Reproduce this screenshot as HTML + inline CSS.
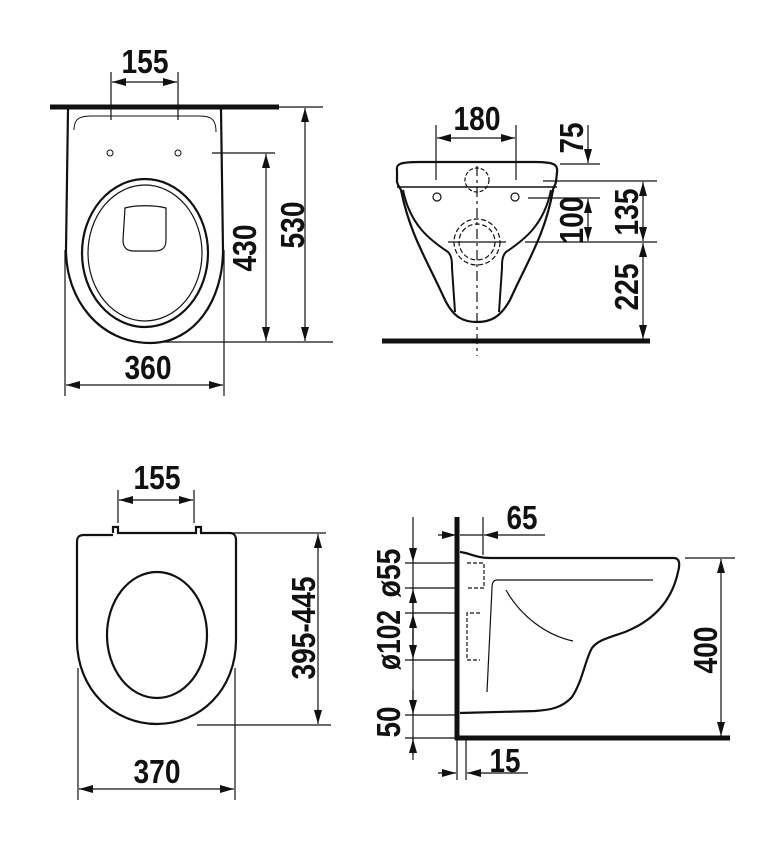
<!DOCTYPE html>
<html><head><meta charset="utf-8"><style>
html,body{margin:0;padding:0;background:#fff;}
svg{display:block;}
text{font-family:"Liberation Sans",sans-serif;font-weight:bold;font-size:33px;fill:#111;text-anchor:middle;}
</style></head><body>
<svg width="784" height="848" viewBox="0 0 784 848" xmlns="http://www.w3.org/2000/svg">
<defs>
<marker id="a" viewBox="0 0 14 8" refX="14" refY="4" markerWidth="14" markerHeight="8" markerUnits="userSpaceOnUse" orient="auto-start-reverse"><path d="M0,0 L14,4 L0,8 Z" fill="#111"/></marker>
</defs>
<g fill="none" stroke="#111" stroke-width="1.2">
<line x1="50" y1="107" x2="279" y2="107" stroke-width="5"/>
<path d="M68,109 L66,250 C66,300 100,343 150,343 C195,343 223,300 223,250 L221,109" stroke-width="2.2"/>
<path d="M74,130 C74,118 80,116 92,116 L200,116 C212,116 216,120 216,132" stroke-width="1"/>
<circle cx="110" cy="153" r="3" stroke-width="1"/><circle cx="178" cy="153" r="3" stroke-width="1"/>
<ellipse cx="145" cy="253" rx="63" ry="74" stroke-width="2.2"/>
<ellipse cx="145" cy="253" rx="57" ry="68" stroke-width="1.2"/>
<path d="M125,208 C135,205 155,205 166,208 L166,240 C166,248 162,251 155,251 L134,251 C127,251 123,248 123,240 Z" stroke-width="1.2"/>
<line x1="111" y1="72" x2="111" y2="120"/><line x1="178" y1="72" x2="178" y2="120"/>
<line x1="112" y1="82" x2="177" y2="82" marker-start="url(#a)" marker-end="url(#a)"/>
<line x1="278" y1="107" x2="323" y2="107"/>
<line x1="305" y1="108" x2="305" y2="341" marker-start="url(#a)" marker-end="url(#a)"/>
<line x1="212" y1="153" x2="275" y2="153"/>
<line x1="266" y1="154" x2="266" y2="341" marker-start="url(#a)" marker-end="url(#a)"/>
<line x1="160" y1="342" x2="333" y2="342"/>
<line x1="65" y1="250" x2="65" y2="396"/><line x1="224" y1="250" x2="224" y2="396"/>
<line x1="66" y1="385" x2="223" y2="385" marker-start="url(#a)" marker-end="url(#a)"/>
<line x1="382" y1="341" x2="650" y2="341" stroke-width="5"/>
<path d="M397,170 C396,164 400,162 420,162 L535,162 C555,162 558,165 557,172 L556,182 C555,186 553,188 553,190 C545,235 528,260 510,300 C500,318 490,322 477,322 C464,322 454,318 445,300 C427,260 410,235 401,190 C400,188 398,186 397,182 Z" stroke-width="2.2"/>
<line x1="397" y1="187" x2="557" y2="187" stroke-width="1.4"/>
<path d="M403,190 C410,225 430,240 448,252 C452,256 452,262 452,268 L455,312" stroke-width="2"/>
<path d="M551,190 C544,225 524,240 506,252 C502,256 502,262 502,268 L499,312" stroke-width="2"/>
<line x1="477" y1="166" x2="477" y2="356" stroke-dasharray="10,4,3,4"/>
<circle cx="477" cy="180" r="12" stroke-dasharray="4,2"/>
<circle cx="477" cy="242" r="23" stroke-dasharray="5,2.5"/>
<circle cx="477" cy="242" r="18" stroke-dasharray="5,2.5"/>
<line x1="448" y1="242" x2="506" y2="242"/>
<circle cx="437" cy="197" r="4"/><circle cx="515" cy="197" r="4"/>
<line x1="436" y1="125" x2="436" y2="180"/><line x1="516" y1="125" x2="516" y2="180"/>
<line x1="437" y1="138" x2="515" y2="138" marker-start="url(#a)" marker-end="url(#a)"/>
<line x1="560" y1="164" x2="600" y2="164"/>
<line x1="588" y1="125" x2="588" y2="163" marker-end="url(#a)"/>
<line x1="543" y1="181" x2="657" y2="181"/>
<line x1="528" y1="198" x2="600" y2="198"/>
<line x1="588" y1="199" x2="588" y2="241" marker-start="url(#a)" marker-end="url(#a)"/>
<line x1="525" y1="242" x2="657" y2="242"/>
<line x1="643" y1="182" x2="643" y2="241" marker-start="url(#a)" marker-end="url(#a)"/>
<line x1="643" y1="243" x2="643" y2="339" marker-start="url(#a)" marker-end="url(#a)"/>
<path d="M113,533 L113,527 L118,527 L118,533 L196,533 L196,527 L201,527 L201,533 L230,533 C234,533 236,536 236,540 L236,640 C236,690 200,724 157,724 C114,724 77,690 77,640 L77,542 C77,537 79,535 84,535 L113,535" stroke-width="2.2"/>
<ellipse cx="157" cy="635" rx="50" ry="63" stroke-width="2.2"/>
<line x1="118" y1="490" x2="118" y2="523"/><line x1="194" y1="490" x2="194" y2="523"/>
<line x1="119" y1="500" x2="193" y2="500" marker-start="url(#a)" marker-end="url(#a)"/>
<line x1="208" y1="533" x2="326" y2="533"/>
<line x1="318" y1="534" x2="318" y2="724" marker-start="url(#a)" marker-end="url(#a)"/>
<line x1="197" y1="725" x2="331" y2="725"/>
<line x1="78" y1="668" x2="78" y2="800"/><line x1="235" y1="668" x2="235" y2="800"/>
<line x1="79" y1="789" x2="234" y2="789" marker-start="url(#a)" marker-end="url(#a)"/>
<line x1="457" y1="517" x2="457" y2="740" stroke-width="5"/>
<line x1="455" y1="738" x2="730" y2="738" stroke-width="5"/>
<path d="M460,552 C470,553 476,558 490,558 L674,558 C680,558 680,565 678,572 C672,600 655,620 625,632 C608,638 598,640 592,648 C585,660 583,680 572,697 C562,708 550,710 535,711 L460,713" stroke-width="2.2"/>
<path d="M653,580 L497,580 C493,580 492,584 492,588 L487,692" stroke-width="1.2"/>
<path d="M506,590 C520,615 545,635 573,641" stroke-width="1.2"/>
<path d="M467,563 L484,563 L484,588 L467,588" stroke-dasharray="4,2"/>
<path d="M480,613 L467,613 L467,660 L480,660" stroke-dasharray="4,2"/>
<line x1="483" y1="517" x2="483" y2="555"/>
<line x1="438" y1="535" x2="456" y2="535" marker-end="url(#a)"/>
<line x1="460" y1="535" x2="483" y2="535"/>
<line x1="545" y1="535" x2="484" y2="535" marker-end="url(#a)"/>
<line x1="413" y1="517" x2="413" y2="562" marker-end="url(#a)"/>
<line x1="413" y1="562" x2="413" y2="755"/>
<line x1="413" y1="615" x2="413" y2="589" marker-end="url(#a)"/>
<line x1="413" y1="640" x2="413" y2="614" marker-end="url(#a)"/>
<line x1="413" y1="630" x2="413" y2="659" marker-end="url(#a)"/>
<line x1="413" y1="690" x2="413" y2="714" marker-end="url(#a)"/>
<line x1="413" y1="760" x2="413" y2="739" marker-end="url(#a)"/>
<line x1="405" y1="563" x2="457" y2="563"/>
<line x1="405" y1="588" x2="457" y2="588"/>
<line x1="405" y1="613" x2="457" y2="613"/>
<line x1="405" y1="660" x2="457" y2="660"/>
<line x1="405" y1="715" x2="457" y2="715"/>
<line x1="405" y1="738" x2="457" y2="738"/>
<line x1="457" y1="740" x2="457" y2="780"/><line x1="466" y1="740" x2="466" y2="780"/>
<line x1="438" y1="773" x2="456" y2="773" marker-end="url(#a)"/>
<line x1="528" y1="773" x2="467" y2="773" marker-end="url(#a)"/>
<line x1="685" y1="558" x2="735" y2="558"/>
<line x1="721" y1="559" x2="721" y2="736" marker-start="url(#a)" marker-end="url(#a)"/>
</g>
<text x="145" y="73" textLength="47" lengthAdjust="spacingAndGlyphs">155</text>
<text x="148" y="379" textLength="47" lengthAdjust="spacingAndGlyphs">360</text>
<text transform="translate(292,225) rotate(-90)" y="12" textLength="47" lengthAdjust="spacingAndGlyphs">530</text>
<text transform="translate(244,248) rotate(-90)" y="12" textLength="47" lengthAdjust="spacingAndGlyphs">430</text>
<text x="477" y="130" textLength="47" lengthAdjust="spacingAndGlyphs">180</text>
<text transform="translate(571,138) rotate(-90)" y="12" textLength="31" lengthAdjust="spacingAndGlyphs">75</text>
<text transform="translate(571,220) rotate(-90)" y="12" textLength="47" lengthAdjust="spacingAndGlyphs">100</text>
<text transform="translate(626,212) rotate(-90)" y="12" textLength="47" lengthAdjust="spacingAndGlyphs">135</text>
<text transform="translate(626,287) rotate(-90)" y="12" textLength="47" lengthAdjust="spacingAndGlyphs">225</text>
<text x="157" y="489" textLength="47" lengthAdjust="spacingAndGlyphs">155</text>
<text x="157" y="783" textLength="47" lengthAdjust="spacingAndGlyphs">370</text>
<text transform="translate(303,628) rotate(-90)" y="12" textLength="103" lengthAdjust="spacingAndGlyphs">395-445</text>
<text x="522" y="529" textLength="31" lengthAdjust="spacingAndGlyphs">65</text>
<text x="505" y="772" textLength="31" lengthAdjust="spacingAndGlyphs">15</text>
<text transform="translate(705,650) rotate(-90)" y="12" textLength="47" lengthAdjust="spacingAndGlyphs">400</text>
<text transform="translate(388,573) rotate(-90)" y="12" textLength="49" lengthAdjust="spacingAndGlyphs">ø55</text>
<text transform="translate(388,640) rotate(-90)" y="12" textLength="60" lengthAdjust="spacingAndGlyphs">ø102</text>
<text transform="translate(388,722) rotate(-90)" y="12" textLength="31" lengthAdjust="spacingAndGlyphs">50</text>
</svg>
</body></html>
